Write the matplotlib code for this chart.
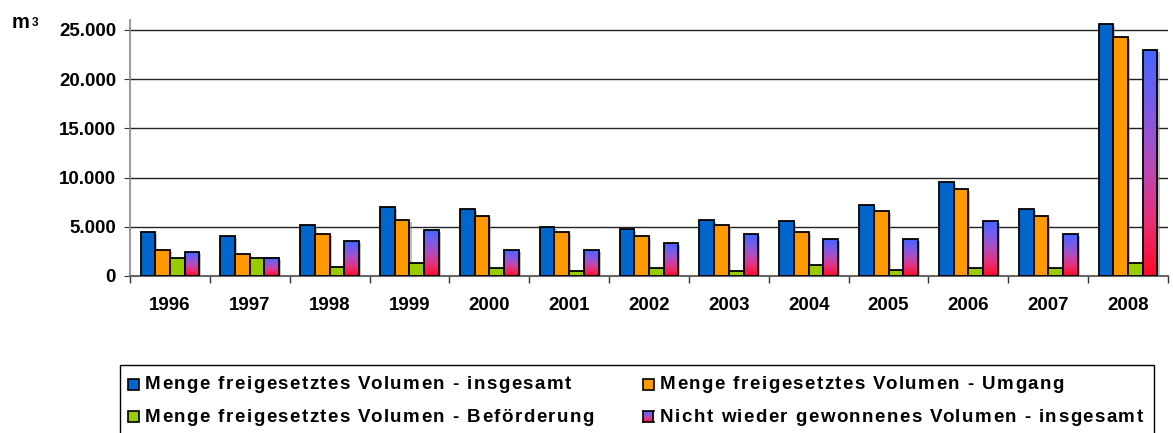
"""
freigesetzte Volumen 1996-2008, grouped bars
"""
import numpy as np
import matplotlib
matplotlib.use("Agg")
import matplotlib.pyplot as plt
from matplotlib.colors import LinearSegmentedColormap
from matplotlib.patches import Rectangle
from matplotlib.font_manager import FontProperties
import matplotlib.patheffects as pe

years = ["1996", "1997", "1998", "1999", "2000", "2001", "2002",
         "2003", "2004", "2005", "2006", "2007", "2008"]
insgesamt = [4430, 4090, 5170, 7000, 6800, 5000, 4800, 5710, 5550, 7200, 9570, 6830, 25560]
umgang = [2600, 2230, 4260, 5710, 6090, 4460, 4060, 5170, 4430, 6620, 8820, 6090, 24270]
befoerderung = [1860, 1860, 945, 1320, 780, 540, 780, 540, 1115, 580, 780, 780, 1320]
nicht_wieder = [2400, 1860, 3550, 4630, 2640, 2640, 3350, 4260, 3720, 3720, 5550, 4260, 22990]

labels = ["Menge freigesetztes Volumen - insgesamt",
          "Menge freigesetztes Volumen - Umgang",
          "Menge freigesetztes Volumen - Beförderung",
          "Nicht wieder gewonnenes Volumen - insgesamt"]
yticks = [0, 5000, 10000, 15000, 20000, 25000]
ytick_labels = ["0", "5.000", "10.000", "15.000", "20.000", "25.000"]

solid_colors = ["#0066CC", "#FF9900", "#99CC00"]
grad = LinearSegmentedColormap.from_list(
    "grad", [(0, "#ff0a28"), (0.25, "#e8307a"), (0.5, "#b44cbc"),
             (0.75, "#7a5ce8"), (1, "#4466ff")])

plt.rcParams['font.family'] = ['Liberation Sans', 'DejaVu Sans']
plt.rcParams['font.weight'] = 'bold'

W, H = 1173, 433
fig = plt.figure(figsize=(W / 100, H / 100), dpi=100)
ax = fig.add_axes([130 / W, 1 - 276 / H, 1038 / W, 256 / H])


def spaced_text(x_px, y_px, s, size, spacing):
    # excel-ish letter spacing, one glyph at a time
    renderer = fig.canvas.get_renderer()
    prop = FontProperties(family='Liberation Sans', weight='bold', size=size)

    def width(t):
        return renderer.get_text_width_height_descent(t, prop, ismath=False)[0]

    for i, ch in enumerate(s):
        if ch == ' ':
            continue
        off = width(s[:i + 1]) - width(ch)
        fig.text((x_px + off + i * spacing) / W, 1 - y_px / H, ch,
                 fontproperties=prop, va='baseline')


x = np.arange(len(years))
bw = 0.184
offsets = np.array([-1.5, -0.5, 0.5, 1.5]) * bw
shadow = [pe.SimplePatchShadow(offset=(1.5, -1.5), shadow_rgbFace='grey', alpha=0.5), pe.Normal()]

series = [insgesamt, umgang, befoerderung]
for vals, col, off in zip(series, solid_colors, offsets[:3]):
    ax.bar(x + off, vals, bw, color=col, edgecolor='black', linewidth=1.3,
           zorder=3, path_effects=shadow)

# gradient bars: shadow underneath, image, then the outline
ax.bar(x + offsets[3], nicht_wieder, bw, color='white', linewidth=0,
       zorder=2.9, path_effects=shadow)
vgrad = np.linspace(0, 1, 256).reshape(-1, 1)
for xi, v in zip(x, nicht_wieder):
    x0 = xi + offsets[3] - bw / 2
    ax.imshow(vgrad, extent=[x0, x0 + bw, 0, v], origin='lower', aspect='auto',
              cmap=grad, zorder=3)
ax.bar(x + offsets[3], nicht_wieder, bw, facecolor='none', edgecolor='black',
       linewidth=1.3, zorder=4)

ax.set_xlim(-0.5, len(years) - 0.5)
ax.set_ylim(0, 26000)
ax.set_yticks(yticks)
ax.set_yticklabels(ytick_labels, fontsize=13.5, fontweight='bold')
ax.set_xticks(x)
ax.set_xticklabels(years, fontsize=13.5, fontweight='bold')
ax.set_xticks(np.arange(len(years) + 1) - 0.5, minor=True)
ax.tick_params(axis='x', which='major', length=0, pad=15)
ax.tick_params(axis='x', which='minor', length=5, color='#333333', width=1)
ax.tick_params(axis='y', length=4, color='#333333', pad=6)
ax.yaxis.grid(True, color='#222222', linewidth=1)
ax.set_axisbelow(True)
for s in ['top', 'right']:
    ax.spines[s].set_visible(False)
ax.spines['left'].set_color('#888888')
ax.spines['bottom'].set_color('#666666')
ax.spines['left'].set_linewidth(1.2)
ax.spines['bottom'].set_linewidth(1.5)

fig.text(12 / W, 1 - 28.5 / H, "m", fontsize=14.5, fontweight='bold', va='baseline')
fig.text(32 / W, 1 - 16.5 / H, "3", fontsize=8.5, fontweight='bold', va='top')

# legend box, runs off the bottom
fig.patches.append(Rectangle((120 / W, -0.1), 1034 / W, 0.1 + 1 - 365 / H,
                             transform=fig.transFigure, facecolor='white',
                             edgecolor='black', linewidth=1, zorder=1))
pos = [(133, 384), (648, 384), (133, 416.5), (648, 416.5)]
ms = 11
for i, (lab, (px, py)) in enumerate(zip(labels, pos)):
    if i < 3:
        fig.patches.append(Rectangle(((px - ms / 2) / W, 1 - (py + ms / 2) / H), ms / W, ms / H,
                                     transform=fig.transFigure, facecolor=solid_colors[i],
                                     edgecolor='black', linewidth=1.2, zorder=2))
    else:
        lax = fig.add_axes([(px - ms / 2) / W, 1 - (py + ms / 2) / H, ms / W, ms / H])
        lax.set_zorder(5)
        lax.imshow(vgrad, origin='lower', aspect='auto', cmap=grad)
        lax.set_xticks([])
        lax.set_yticks([])
        for s in lax.spines.values():
            s.set_linewidth(1.2)
    spaced_text(px + 12, py + 5, lab, 13.5, 1.45)

fig.savefig("out.png", dpi=100)
